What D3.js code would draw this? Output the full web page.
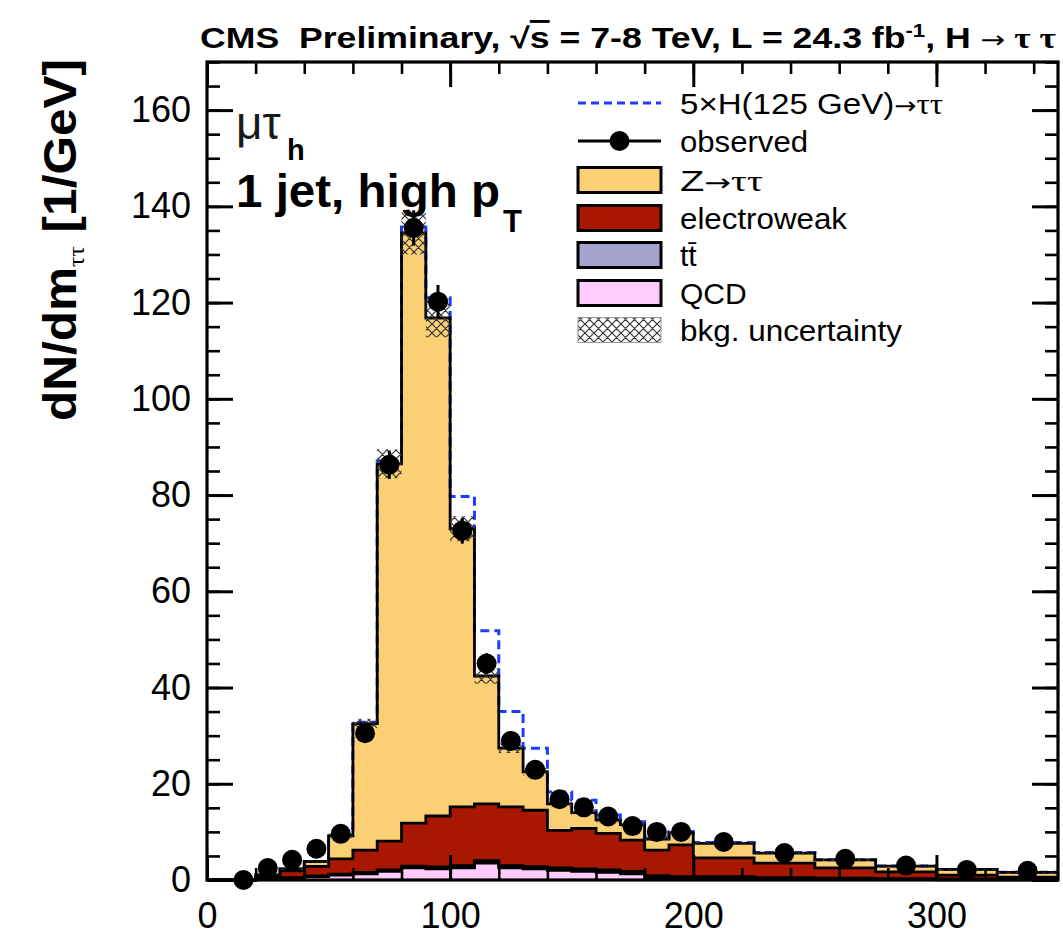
<!DOCTYPE html>
<html><head><meta charset="utf-8">
<script src="https://cdn.jsdelivr.net/npm/d3@7"></script>
<style>
body{margin:0;background:#fff;}
svg{display:block;}
text{font-family:"Liberation Sans",Arial,Helvetica,sans-serif;white-space:pre;}
</style>
</head><body>
<svg id="c" width="1063" height="941"></svg>
<script>
// ---------------- data ----------------
const binEdges = [0,10,20,30,40,50,60,70,80,90,100,110,120,130,140,150,160,170,180,190,200,225,250,275,300,325,350];
const qcd    = [0,0,0.2,0.4,0.7,1.0,1.3,1.8,2.5,2.3,2.5,3.5,2.5,2.3,2.0,1.8,1.6,1.3,0.5,0.3,0.3,0.2,0.1,0.1,0.05,0.05];
const ttbar  = [0,0,0.05,0.1,0.15,0.2,0.3,0.3,0.4,0.4,0.5,0.5,0.5,0.5,0.5,0.5,0.5,0.5,0.4,0.4,0.4,0.3,0.3,0.2,0.2,0.1];
const ewk    = [0,0,0.3,1.4,2.0,3.2,4.6,6.0,8.9,10.6,12.2,11.8,12.2,11.7,7.8,8.4,7.6,6.5,5.3,6.6,3.9,3.0,2.1,1.4,0.75,0.45];
const ztt    = [0,0,0.5,0.4,1.0,4.8,26.3,78.4,122.7,103.5,57.8,26.6,12.2,8.0,5.5,3.3,2.8,3.2,2.3,2.5,3.0,2.1,1.7,1.2,1.2,1.0];
const signal5xH = [0,0,0,0,0,0.1,0.3,0.6,1.2,4.2,6.7,9.4,7.6,4.9,2.5,2.6,1.0,0.6,0.4,0.3,0.2,0.1,0,0,0,0];
const bkgUnc = [0,0,0.1,0.2,0.2,0.4,1.0,3.0,4.5,4.0,2.6,1.6,1.0,0.8,0.6,0.5,0.5,0.5,0.4,0.4,0.3,0.25,0.2,0.15,0.1,0.1];

const obsCenters = [15,25,35,45,55,65,75,85,95,105,115,125,135,145,155,165,175,185,195,212.5,237.5,262.5,287.5,312.5,337.5];
const obsValues  = [0,2.5,4.2,6.5,9.6,30.5,86.3,135.5,120.2,72.6,45.0,28.9,22.9,16.8,15.1,13.2,11.2,10.0,10.0,7.9,5.6,4.4,3.0,2.1,1.9];
const obsErrors  = [0,0.5,0.65,0.81,0.98,1.75,2.94,3.68,3.47,2.69,2.12,1.7,1.51,1.3,1.24,1.14,1.04,1.0,1.0,0.56,0.47,0.42,0.35,0.29,0.27];

const yTickValues = [0,20,40,60,80,100,120,140,160];
const xTickValues = [0,100,200,300];

const colors = {ztt:"#FBCF74", ewk:"#A81800", tt:"#A3A3CD", qcd:"#FDCCFD", sig:"#1E3CFF"};

// ---------------- layout ----------------
const X0=207, X1=1058, Y0=62, Y1=880;
const svg = d3.select("#c");
const x = d3.scaleLinear().domain([0,350]).range([X0,X1]);
const y = d3.scaleLinear().domain([0,170]).range([Y1,Y0]);

const defs = svg.append("defs");
const pat = defs.append("pattern").attr("id","hatch").attr("patternUnits","userSpaceOnUse")
  .attr("width",9).attr("height",9);
pat.append("path").attr("d","M0,0L9,9M9,0L0,9M-1,8L1,10M8,-1L10,1").attr("stroke","#333").attr("stroke-width",1.2).attr("fill","none");

// ---------------- stack ----------------
const nb = binEdges.length-1;
const table = d3.range(nb).map(i=>({lo:binEdges[i],hi:binEdges[i+1],
  qcd:qcd[i],tt:ttbar[i],ewk:ewk[i],ztt:ztt[i],sig:signal5xH[i]}));
const keys = ["qcd","tt","ewk","ztt","sig"];
const series = d3.stack().keys(keys)(table);
const stepPts = s => s.flatMap(d=>[{x:d.data.lo,y0:d[0],y1:d[1]},{x:d.data.hi,y0:d[0],y1:d[1]}]);
const area = d3.area().x(p=>x(p.x)).y0(p=>y(p.y0)).y1(p=>y(p.y1));
const line = d3.line().x(p=>x(p.x)).y(p=>y(p.y1));

const plot = svg.append("g");
series.slice(0,4).forEach(s=>{
  plot.append("path").attr("d",area(stepPts(s))).attr("fill",colors[s.key]).attr("stroke","none");
});
plot.append("path").attr("d",line(stepPts(series[4]))).attr("fill","none")
  .attr("stroke",colors.sig).attr("stroke-width",3).attr("stroke-dasharray","9,5");
series.slice(0,4).forEach(s=>{
  plot.append("path").attr("d",line(stepPts(s))).attr("fill","none")
    .attr("stroke","#000").attr("stroke-width",2.8).attr("stroke-linejoin","miter");
});
const totals = series[3].map(d=>d[1]);
const band = table.map((d,i)=>({lo:d.lo,hi:d.hi,t:totals[i],e:bkgUnc[i]})).filter(d=>d.e>0);
plot.selectAll("rect.unc").data(band).join("rect").attr("class","unc")
  .attr("x",d=>x(d.lo)).attr("width",d=>x(d.hi)-x(d.lo))
  .attr("y",d=>y(d.t+d.e)).attr("height",d=>y(d.t-d.e)-y(d.t+d.e))
  .attr("fill","url(#hatch)");

const obs = obsCenters.map((c,i)=>({c,v:obsValues[i],e:obsErrors[i]}));
plot.selectAll("line.err").data(obs).join("line").attr("class","err")
  .attr("x1",d=>x(d.c)).attr("x2",d=>x(d.c)).attr("y1",d=>y(d.v-d.e)).attr("y2",d=>y(d.v+d.e))
  .attr("stroke","#000").attr("stroke-width",3);
plot.selectAll("circle.obs").data(obs).join("circle").attr("class","obs")
  .attr("cx",d=>x(d.c)).attr("cy",d=>y(d.v)).attr("r",10).attr("fill","#000");

// ---------------- axes ----------------
function styleAxis(g,w){ g.select(".domain").remove(); g.selectAll(".tick line").attr("stroke","#000").attr("stroke-width",w); }
function styleLabels(g){ g.selectAll("text").attr("font-size",36).attr("font-family","Liberation Sans").attr("fill","#000"); }
svg.append("g").attr("transform",`translate(${X0},0)`)
  .call(d3.axisLeft(y).tickValues(d3.range(0,171,5)).tickSize(-13).tickFormat(""))
  .call(g=>styleAxis(g,2.6));
svg.append("g").attr("transform",`translate(${X0},0)`)
  .call(d3.axisLeft(y).tickValues(yTickValues).tickSize(-26).tickPadding(16).tickFormat(d3.format("d")))
  .call(g=>styleAxis(g,3)).call(styleLabels);
svg.append("g").attr("transform",`translate(${X1},0)`)
  .call(d3.axisRight(y).tickValues(d3.range(0,171,5)).tickSize(-13).tickFormat(""))
  .call(g=>styleAxis(g,2.6));
svg.append("g").attr("transform",`translate(${X1},0)`)
  .call(d3.axisRight(y).tickValues(yTickValues).tickSize(-26).tickFormat(""))
  .call(g=>styleAxis(g,3));
svg.append("g").attr("transform",`translate(0,${Y1})`)
  .call(d3.axisBottom(x).tickValues(d3.range(0,351,20)).tickSize(-12).tickFormat(""))
  .call(g=>styleAxis(g,2.6));
svg.append("g").attr("transform",`translate(0,${Y1})`)
  .call(d3.axisBottom(x).tickValues(xTickValues).tickSize(-25).tickPadding(22).tickFormat(d3.format("d")))
  .call(g=>styleAxis(g,3)).call(styleLabels);
svg.append("g").attr("transform",`translate(0,${Y0})`)
  .call(d3.axisTop(x).tickValues(d3.range(0,351,20)).tickSize(-12).tickFormat(""))
  .call(g=>styleAxis(g,2.6));
svg.append("g").attr("transform",`translate(0,${Y0})`)
  .call(d3.axisTop(x).tickValues(xTickValues).tickSize(-25).tickFormat(""))
  .call(g=>styleAxis(g,3));
svg.append("rect").attr("x",X0).attr("y",Y0).attr("width",X1-X0).attr("height",Y1-Y0)
  .attr("fill","none").attr("stroke","#000").attr("stroke-width",3.2);

// ---------------- texts ----------------
const title = svg.append("text").attr("x",200).attr("y",48).attr("font-size",29).attr("font-weight","bold").attr("fill","#000");
title.append("tspan").text("CMS  Preliminary, √");
title.append("tspan").style("text-decoration","overline").text("s");
title.append("tspan").text(" = 7-8 TeV, L = 24.3 fb");
title.append("tspan").attr("font-size",18).attr("dy",-11).text("-1");
title.append("tspan").attr("dy",11).text(", H ");
title.append("tspan").attr("font-family","DejaVu Sans").attr("font-weight","normal").attr("font-size",24).text("→");
title.append("tspan").attr("font-family","Liberation Serif").text(" τ τ");
title.attr("textLength",856).attr("lengthAdjust","spacingAndGlyphs");

const yl = svg.append("text").attr("transform","translate(76,421) rotate(-90)")
  .attr("font-size",46).attr("font-weight","bold").attr("fill","#000");
yl.append("tspan").text("dN/dm");
yl.append("tspan").attr("font-family","Liberation Serif").attr("font-size",24).attr("font-weight","normal").attr("dy",8).text("ττ");
yl.append("tspan").attr("dy",-8).text(" [1/GeV]");
yl.attr("textLength",362).attr("lengthAdjust","spacingAndGlyphs");

svg.append("text").attr("x",236).attr("y",139).attr("fill","#1a1a1a")
  .attr("font-family","Liberation Serif").attr("font-size",46).text("μτ");
svg.append("text").attr("x",287).attr("y",160).attr("fill","#000")
  .attr("font-weight","bold").attr("font-size",29).text("h");
svg.append("text").attr("x",236).attr("y",207).attr("fill","#000").attr("font-weight","bold")
  .attr("font-size",47).attr("textLength",264).attr("lengthAdjust","spacingAndGlyphs").text("1 jet, high p");
svg.append("text").attr("x",503).attr("y",232).attr("fill","#000").attr("font-weight","bold")
  .attr("font-size",31).text("T");

// ---------------- legend ----------------
const legX0=578, legX1=661, legTX=680;
const rows=[103,141,180,218,255,293,330];
const lg = svg.append("g");
lg.append("line").attr("x1",legX0).attr("x2",legX1).attr("y1",rows[0]).attr("y2",rows[0])
  .attr("stroke",colors.sig).attr("stroke-width",3).attr("stroke-dasharray","8,5");
lg.append("line").attr("x1",legX0).attr("x2",legX1).attr("y1",rows[1]).attr("y2",rows[1])
  .attr("stroke","#000").attr("stroke-width",3);
lg.append("circle").attr("cx",(legX0+legX1)/2).attr("cy",rows[1]).attr("r",10).attr("fill","#000");
[["ztt",2],["ewk",3],["tt",4],["qcd",5]].forEach(([k,r])=>{
  lg.append("rect").attr("x",legX0).attr("y",rows[r]-12.5).attr("width",legX1-legX0).attr("height",25)
    .attr("fill",colors[k]).attr("stroke","#000").attr("stroke-width",3);
});
lg.append("rect").attr("x",legX0).attr("y",rows[6]-12.5).attr("width",legX1-legX0).attr("height",25)
  .attr("fill","url(#hatch)").attr("stroke","#999").attr("stroke-width",1);
function legText(r,len){const t=lg.append("text").attr("x",legTX).attr("y",rows[r]+11).attr("font-size",30).attr("fill","#000");
  if(len) t.attr("textLength",len).attr("lengthAdjust","spacingAndGlyphs"); return t;}
let t=legText(0,263); t.append("tspan").text("5×H(125 GeV)");
t.append("tspan").attr("font-family","DejaVu Sans").attr("font-size",24).text("→");
t.append("tspan").attr("font-family","Liberation Serif").text("ττ");
legText(1,128).text("observed");
t=legText(2,83); t.append("tspan").text("Z");
t.append("tspan").attr("font-family","DejaVu Sans").attr("font-size",24).text("→");
t.append("tspan").attr("font-family","Liberation Serif").text("ττ");
legText(3,167).text("electroweak");
legText(4).text("tt\u0304");
legText(5).text("QCD");
legText(6,222).text("bkg. uncertainty");
</script>
</body></html>
